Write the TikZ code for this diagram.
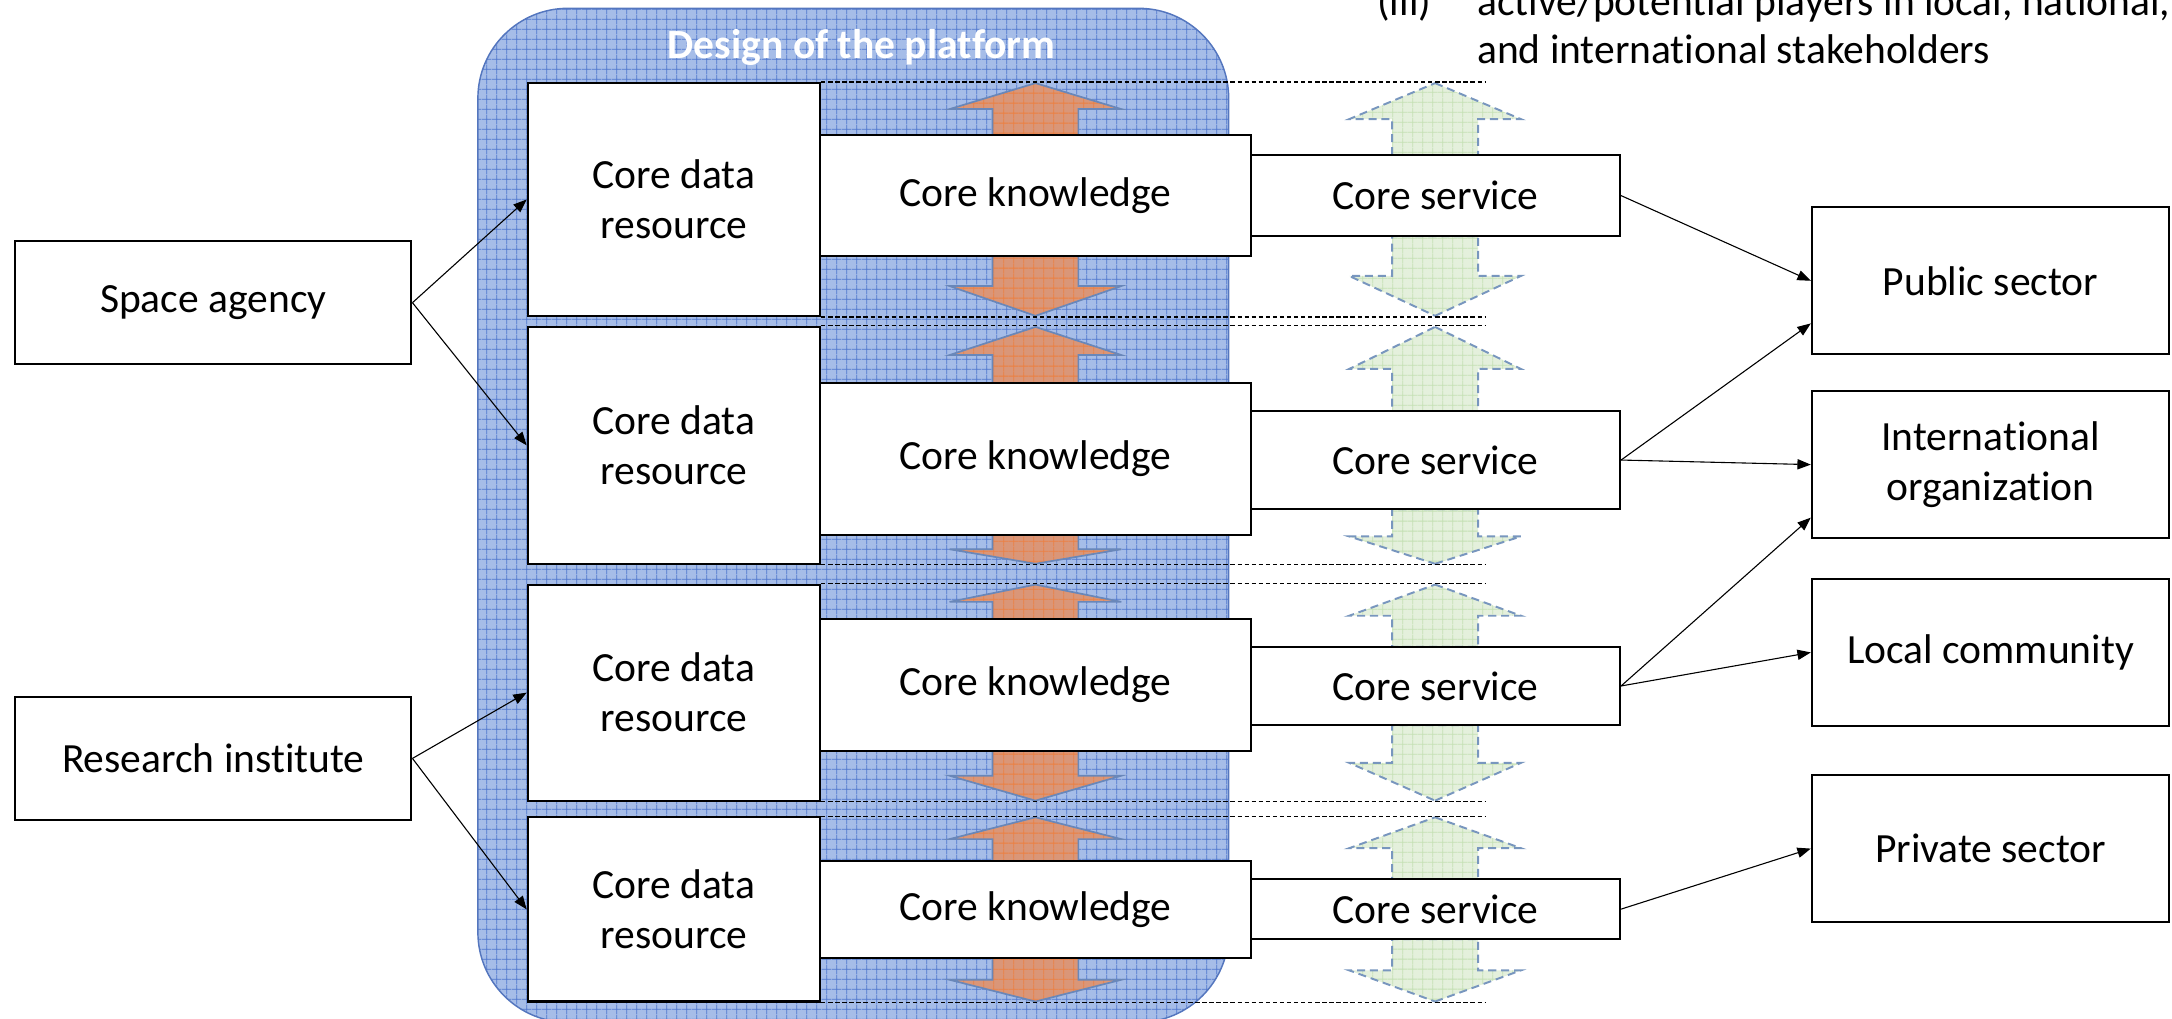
\documentclass[tikz,border=0pt]{standalone}
\usepackage{fontspec}
\setmainfont{Carlito}[Ligatures=NoCommon]
\usetikzlibrary{patterns.meta}
\usetikzlibrary{
        arrows.meta,
    }

\definecolor{platblue}{RGB}{166,189,232}
\definecolor{platgrid}{RGB}{78,118,205}
\definecolor{platline}{RGB}{84,118,190}
\definecolor{orfill}{RGB}{218,150,120}
\definecolor{orgrid}{RGB}{236,128,66}
\definecolor{orline}{RGB}{105,135,185}
\definecolor{grfill}{RGB}{228,240,220}
\definecolor{grgrid}{RGB}{196,224,180}
\definecolor{grline}{RGB}{120,150,190}

\tikzset{
    box/.style={draw, line width=0.9pt, fill=white, inner sep=0pt, align=center},
    link/.style={-{Triangle[length=5.5pt,width=4.2pt]}, line width=0.45pt},
    guide/.style={line width=0.5pt, dash pattern=on 1.8pt off 1.1pt},
    gridfill/.style={pattern={Hatch[distance=4pt, angle=0, line width=0.4pt]}, pattern color=#1},
    platform/.style={rounded corners=1.3cm, fill=platblue,
        postaction={gridfill=platgrid},
        postaction={draw=platline, line width=0.6pt}},
    orarrow/.style={fill=orfill,
        postaction={gridfill=orgrid},
        postaction={draw=orline, line width=0.7pt}},
    grarrow/.style={fill=grfill,
        postaction={gridfill=grgrid},
        postaction={draw=grline, line width=0.8pt, dash pattern=on 3.3pt off 2pt}},
}

% style, centre x, tip y, foot y
\newcommand{\blockarrow}[4]{%
    \pgfmathsetmacro{\neck}{(#3+#4)/2}
    \path[#1] (#2,#3) -- (#2+62,\neck) -- (#2+31,\neck) -- (#2+31,#4)
        -- (#2-31,#4) -- (#2-31,\neck) -- (#2-62,\neck) -- cycle;
}

\begin{document}
\begin{tikzpicture}[x=0.02cm, y=-0.02cm, font=\fontsize{17.07}{20.5}\selectfont]
        \useasboundingbox (0,0) rectangle (1568,735);

        % the platform
        \path[platform] (345,6) rectangle (887,738);
        \node[text=white, font=\fontsize{17.07}{20.5}\selectfont\bfseries, anchor=base, inner sep=0pt] (title) at (622,42) {Design of the platform};

        % block arrows
        \foreach \tip/\foot in {60/97.5, 228/185, 236/276.6, 407/386, 422/447, 578/542, 590/621.5, 723/691.6}
            {\blockarrow{orarrow}{747.5}{\tip}{\foot}}
        \foreach \tip/\foot in {60/112, 228/170.4, 236/296.7, 407/367.5, 422/467, 578/523.4, 590/634.6, 723/678}
            {\blockarrow{grarrow}{1036}{\tip}{\foot}}

        % core data
        \node[box, minimum width=4.22cm, minimum height=3.36cm] (d1) at (486.5,144) {Core data\\resource};
        \node[box, minimum width=4.22cm, minimum height=3.42cm] (d2) at (486.5,321.5) {Core data\\resource};
        \node[box, minimum width=4.22cm, minimum height=3.12cm] (d3) at (486.5,500) {Core data\\resource};
        \node[box, minimum width=4.22cm, minimum height=2.66cm] (d4) at (486.5,656.5) {Core data\\resource};

        % core knowledge
        \node[box, minimum width=6.22cm, minimum height=1.75cm] (k1) at (747.5,141.25) {Core knowledge};
        \node[box, minimum width=6.22cm, minimum height=2.19cm] (k2) at (747.5,331.3) {Core knowledge};
        \node[box, minimum width=6.22cm, minimum height=1.9cm] (k3) at (747.5,494.5) {Core knowledge};
        \node[box, minimum width=6.22cm, minimum height=1.4cm] (k4) at (747.5,656.5) {Core knowledge};

        % core service
        \node[box, minimum width=5.33cm, minimum height=1.17cm] (s1) at (1036.25,141.2) {Core service};
        \node[box, minimum width=5.33cm, minimum height=1.42cm] (s2) at (1036.25,332.1) {Core service};
        \node[box, minimum width=5.33cm, minimum height=1.13cm] (s3) at (1036.25,495.2) {Core service};
        \node[box, minimum width=5.33cm, minimum height=0.87cm] (s4) at (1036.25,656.3) {Core service};

        % providers and users
        \node[box, minimum width=5.72cm, minimum height=1.78cm] (space) at (154,218.5) {Space agency};
        \node[box, minimum width=5.72cm, minimum height=1.78cm] (research) at (154,547.5) {Research institute};
        \node[box, minimum width=5.16cm, minimum height=2.12cm] (public) at (1437,202.7) {Public sector};
        \node[box, minimum width=5.16cm, minimum height=2.12cm] (intl) at (1437,335.4) {International\\organization};
        \node[box, minimum width=5.16cm, minimum height=2.12cm] (local) at (1437,471) {Local community};
        \node[box, minimum width=5.16cm, minimum height=2.12cm] (private) at (1437,612.6) {Private sector};

        % dashed guides
        \coordinate (rim) at (1072,0);
        \foreach \n in {d1,d2,d3,d4}
            \draw[guide] (\n.north east) -- (\n.north east -| rim) (\n.south east) -- (\n.south east -| rim);

        % links
        \draw[link] (space.east) -- (d1.west);
        \draw[link] (space.east) -- (d2.west);
        \draw[link] (research.east) -- (d3.west);
        \draw[link] (research.east) -- (d4.west);
        \draw[link] (s1.east) -- (public.west);
        \draw[link] (s2.east) -- ([yshift=0.46cm]public.south west);
        \draw[link] (s2.east) -- (intl.west);
        \draw[link] (s3.east) -- ([yshift=0.31cm]intl.south west);
        \draw[link] (s3.east) -- (local.west);
        \draw[link] (s4.east) -- (private.west);

        % list item at the top
        \node[anchor=base west, inner sep=0pt] (item) at (994,11) {(iii)};
        \node[anchor=base west, inner sep=0pt] (itemA) at (1066,11) {active/potential players in local, national,};
        \node[anchor=base west, inner sep=0pt] (itemB) at (1066,45.5) {and international stakeholders};
    \end{tikzpicture}
\end{document}
